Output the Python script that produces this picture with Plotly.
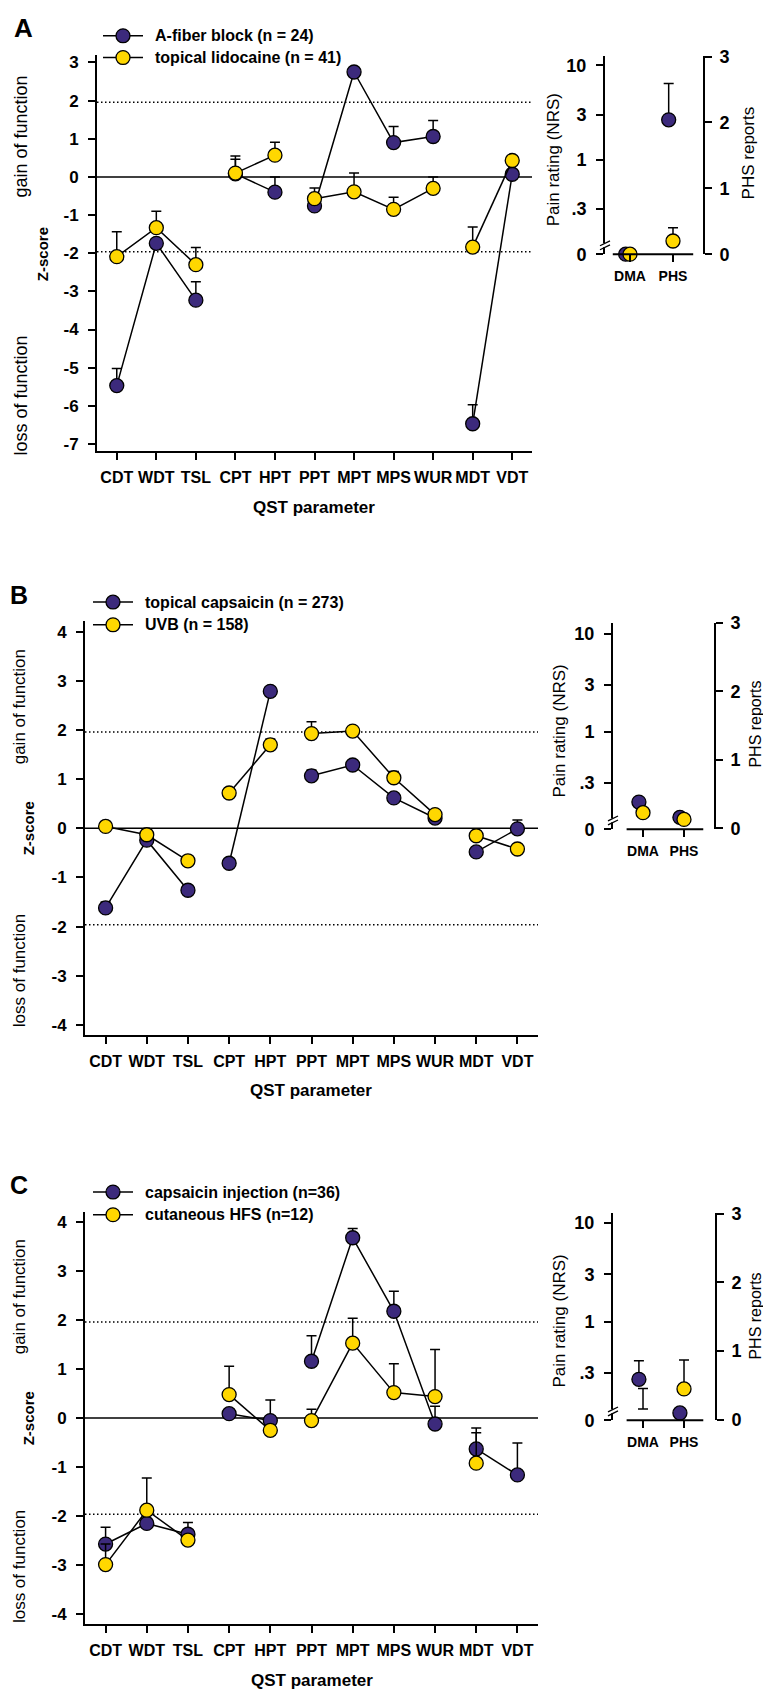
import plotly.graph_objects as go

W, H = 771, 1702
OFF = 8  # the page body adds an 8px margin around the figure
FONT = "Liberation Sans"
PURPLE = "#3c2a7c"
YELLOW = "#ffd700"

# ---------------- data ----------------
params = ["CDT", "WDT", "TSL", "CPT", "HPT", "PPT", "MPT", "MPS", "WUR", "MDT", "VDT"]
segments = [[0, 1, 2], [3, 4], [5, 6, 7, 8], [9, 10]]
right_cats = ["DMA", "PHS"]

a_names = ["A-fiber block (n = 24)", "topical lidocaine (n = 41)"]
a_purple = [-5.47, -1.74, -3.23, 0.08, -0.40, -0.76, 2.75, 0.90, 1.06, -6.47, 0.07]
a_purple_err = [0.45, 0, 0.48, 0.38, 0.40, 0, 0, 0.42, 0.42, 0.50, 0]
a_yellow = [-2.09, -1.33, -2.30, 0.10, 0.57, -0.57, -0.39, -0.85, -0.30, -1.84, 0.43]
a_yellow_err = [0.65, 0.43, 0.45, 0.45, 0.34, 0.28, 0.49, 0.32, 0.30, 0.53, 0]
a_pain_dma = [0.0, 0.0]          # NRS, purple / yellow
a_pain_dma_err = [0.0, 0.0]
a_phs = [2.04, 0.20]             # PHS reports, purple / yellow
a_phs_err = [0.55, 0.20]

b_names = ["topical capsaicin (n = 273)", "UVB (n = 158)"]
b_purple = [-1.62, -0.24, -1.26, -0.71, 2.79, 1.07, 1.29, 0.62, 0.21, -0.48, -0.01]
b_purple_err = [0.12, 0.05, 0.08, 0.05, 0.05, 0.12, 0.08, 0.08, 0.08, 0.05, 0.18]
b_yellow = [0.04, -0.13, -0.66, 0.72, 1.70, 1.93, 1.98, 1.03, 0.28, -0.15, -0.42]
b_yellow_err = [0.10, 0.05, 0.05, 0.10, 0.12, 0.24, 0.05, 0.13, 0.10, 0.05, 0.05]
b_pain_dma = [0.19, 0.148]
b_pain_dma_err = [0.0, 0.0]
b_phs = [0.16, 0.13]
b_phs_err = [0.0, 0.0]

c_names = ["capsaicin injection (n=36)", "cutaneous HFS (n=12)"]
c_purple = [-2.57, -2.15, -2.37, 0.09, -0.05, 1.16, 3.68, 2.18, -0.12, -0.63, -1.16]
c_purple_err = [0.34, 0.10, 0.24, 0.10, 0.42, 0.52, 0.19, 0.41, 0.36, 0.43, 0.65]
c_yellow = [-2.99, -1.88, -2.49, 0.48, -0.25, -0.05, 1.53, 0.52, 0.44, -0.92, None]
c_yellow_err = [0.42, 0.66, 0.10, 0.58, 0.10, 0.23, 0.51, 0.59, 0.96, 0.62, None]
c_pain_dma = [0.26, 0.13]
c_pain_dma_err = [0.14, 0.08]
c_phs = [0.10, 0.45]
c_phs_err = [0.0, 0.42]

nrs_ticks = [0.1, 0.3, 1, 3, 10]
nrs_text = ["0", ".3", "1", "3", "10"]
phs_ticks = [0, 1, 2, 3]


def X(p):
    return (p - OFF) / W


def Y(p):
    return 1 - (p - OFF) / H


fig = go.Figure()


def seg_xy(vals, errs):
    xs, ys, es = [], [], []
    for k, g in enumerate(segments):
        if k:
            xs.append(None); ys.append(None); es.append(0)
        for i in g:
            xs.append(i)
            ys.append(vals[i])
            es.append(errs[i] if errs[i] is not None else 0)
    return xs, ys, es


def err(arr):
    return dict(type="data", array=arr, symmetric=False, arrayminus=[0] * len(arr),
                color="black", thickness=1.5, width=5)


MK = dict(size=14, line=dict(color="black", width=1.3))


def main_series(vals, errs, color, name, xa, ya):
    xs, ys, es = seg_xy(vals, errs)
    fig.add_trace(go.Scatter(
        x=xs, y=ys, mode="lines+markers", name=name, showlegend=False,
        line=dict(color="black", width=1.5),
        marker=dict(MK, color=color),
        error_y=err(es), xaxis=xa, yaxis=ya, cliponaxis=False))


def nrs_pos(v):
    return v if v > 0.1 else 0.1


def right_series(pain, pain_err, phs, phs_err, xa, ya_pain, ya_phs, hide_yellow_dma=False):
    offsets = [-0.1, 0.0]
    colors = [PURPLE, YELLOW]
    for k in range(2):
        op = 0 if (hide_yellow_dma and k == 1) else 1
        fig.add_trace(go.Scatter(
            x=[0 + offsets[k]], y=[nrs_pos(pain[k])], mode="markers", showlegend=False,
            marker=dict(MK, color=colors[k], opacity=op),
            error_y=err([pain_err[k]]), xaxis=xa, yaxis=ya_pain, cliponaxis=False))
        fig.add_trace(go.Scatter(
            x=[1 + offsets[k]], y=[phs[k]], mode="markers", showlegend=False,
            marker=dict(MK, color=colors[k]),
            error_y=err([phs_err[k]]), xaxis=xa, yaxis=ya_phs, cliponaxis=False))


# ---------------- traces ----------------
main_series(a_purple, a_purple_err, PURPLE, a_names[0], "x", "y")
main_series(a_yellow, a_yellow_err, YELLOW, a_names[1], "x", "y")
right_series(a_pain_dma, a_pain_dma_err, a_phs, a_phs_err, "x2", "y2", "y3")

main_series(b_purple, b_purple_err, PURPLE, b_names[0], "x3", "y4")
main_series(b_yellow, b_yellow_err, YELLOW, b_names[1], "x3", "y4")
right_series(b_pain_dma, b_pain_dma_err, b_phs, b_phs_err, "x4", "y5", "y6")

main_series(c_purple, c_purple_err, PURPLE, c_names[0], "x5", "y7")
main_series(c_yellow, c_yellow_err, YELLOW, c_names[1], "x5", "y7")
right_series(c_pain_dma, c_pain_dma_err, c_phs, c_phs_err, "x6", "y8", "y9", hide_yellow_dma=True)

# ---------------- axes ----------------
ytickfont = dict(family=FONT, size=17, color="black", weight="bold")
rtickfont = dict(family=FONT, size=18, color="black", weight="bold")
xtickfont = dict(family=FONT, size=16, color="black", weight="bold")
common = dict(showline=True, linewidth=2, linecolor="black", ticks="outside", ticklen=7,
              tickwidth=2, tickcolor="black", showgrid=False, zeroline=False, fixedrange=True)

panels = [
    dict(xm=(97, 532), ym=(45, 446), yr=(-7.18, 3.207), zt=list(range(-7, 4)),
         xr=(605, 703), rr=(46, 247), xrr=(-0.581, 1.698), nr=(-1, 1.104), pr=(0, 3.015)),
    dict(xm=(85, 538), ym=(618, 1037), yr=(-4.205, 4.225), zt=list(range(-4, 5)),
         xr=(613, 714), rr=(620, 829), xrr=(-0.732, 1.732), nr=(-1, 1.111), pr=(-0.015, 3.0)),
    dict(xm=(85, 538), ym=(1216, 1633), yr=(-4.2, 4.21), zt=list(range(-4, 5)),
         xr=(613, 715), rr=(1217, 1427), xrr=(-0.732, 1.756), nr=(-1, 1.1), pr=(-0.007, 3.014)),
]

layout = {}
for i, p in enumerate(panels):
    xm_id = 2 * i + 1
    xr_id = 2 * i + 2
    ym_id = 3 * i + 1
    yn_id = 3 * i + 2
    yp_id = 3 * i + 3
    xm_name = "xaxis" if xm_id == 1 else f"xaxis{xm_id}"
    ym_name = "yaxis" if ym_id == 1 else f"yaxis{ym_id}"
    xm_ref = "x" if xm_id == 1 else f"x{xm_id}"
    ym_ref = "y" if ym_id == 1 else f"y{ym_id}"
    layout[xm_name] = dict(common, domain=[X(p["xm"][0]), X(p["xm"][1])], range=[-0.5, 10.5],
                           tickvals=list(range(11)), ticktext=params, tickfont=xtickfont,
                           ticklabelstandoff=4, anchor=ym_ref)
    layout[ym_name] = dict(common, domain=[Y(p["ym"][1]), Y(p["ym"][0])], range=list(p["yr"]),
                           tickvals=p["zt"], ticktext=[str(v) for v in p["zt"]],
                           tickfont=ytickfont, ticklabelstandoff=6, anchor=xm_ref)
    layout[f"xaxis{xr_id}"] = dict(common, showline=False, domain=[X(p["xr"][0]), X(p["xr"][1])],
                                   range=list(p["xrr"]), tickvals=[0, 1], ticktext=right_cats,
                                   tickfont=dict(family=FONT, size=14, color="black", weight="bold"),
                                   ticklabelstandoff=2, anchor=f"y{yn_id}")
    layout[f"yaxis{yn_id}"] = dict(common, type="log", domain=[Y(p["rr"][1]), Y(p["rr"][0])],
                                   range=list(p["nr"]), tickvals=nrs_ticks, ticktext=nrs_text,
                                   tickfont=rtickfont, ticklabelstandoff=6, anchor=f"x{xr_id}")
    layout[f"yaxis{yp_id}"] = dict(common, domain=[Y(p["rr"][1]), Y(p["rr"][0])],
                                   range=list(p["pr"]), tickvals=phs_ticks,
                                   ticktext=[str(v) for v in phs_ticks], tickfont=rtickfont,
                                   ticklabelstandoff=4,
                                   overlaying=f"y{yn_id}", side="right", anchor=f"x{xr_id}")

shapes = []
annotations = []


def ann(text, x, y, size, bold=True, angle=0, xanchor="center", color="black"):
    t = f"<b>{text}</b>" if bold else text
    annotations.append(dict(text=t, x=X(x), y=Y(y), xref="paper", yref="paper", showarrow=False,
                            textangle=angle, xanchor=xanchor, yanchor="middle",
                            font=dict(family=FONT, size=size, color=color)))


for i, p in enumerate(panels):
    xm_id = 2 * i + 1
    xr_id = 2 * i + 2
    ym_id = 3 * i + 1
    yn_id = 3 * i + 2
    xm_ref = "x" if xm_id == 1 else f"x{xm_id}"
    ym_ref = "y" if ym_id == 1 else f"y{ym_id}"
    shapes.append(dict(type="line", xref=f"{xm_ref} domain", yref=ym_ref, x0=0, x1=1, y0=0, y1=0,
                       line=dict(color="black", width=1.5), layer="below"))
    for lv in (1.96, -1.96):
        shapes.append(dict(type="line", xref=f"{xm_ref} domain", yref=ym_ref, x0=0, x1=1, y0=lv, y1=lv,
                           line=dict(color="black", width=1.5, dash="1.5px,2.5px"), layer="below"))
    shapes.append(dict(type="line", xref=f"x{xr_id}", yref=f"y{yn_id} domain", x0=-0.4, x1=1.47,
                       y0=0, y1=0, line=dict(color="black", width=2)))
    xb = p["xr"][0]
    yb = p["rr"][1] - 9
    shapes.append(dict(type="rect", xref="paper", yref="paper", x0=X(xb - 2), x1=X(xb + 2),
                       y0=Y(yb + 2), y1=Y(yb - 2), fillcolor="white", line=dict(width=0)))
    for d in (-2, 2):
        shapes.append(dict(type="line", xref="paper", yref="paper", x0=X(xb - 5), x1=X(xb + 5),
                           y0=Y(yb + d + 2.5), y1=Y(yb + d - 2.5), line=dict(color="black", width=1.3)))


def legend_item(name, color, x_line, y):
    shapes.append(dict(type="line", xref="paper", yref="paper", x0=X(x_line), x1=X(x_line + 40),
                       y0=Y(y), y1=Y(y), line=dict(color="black", width=1.5)))
    cx = x_line + 20
    shapes.append(dict(type="circle", xref="paper", yref="paper", x0=X(cx - 7), x1=X(cx + 7),
                       y0=Y(y + 7), y1=Y(y - 7), fillcolor=color,
                       line=dict(color="black", width=1.3)))
    ann(name, x_line + 50, y, 16, xanchor="left")


legend_item(a_names[0], PURPLE, 103, 26)
legend_item(a_names[1], YELLOW, 103, 48)
legend_item(b_names[0], PURPLE, 93, 599)
legend_item(b_names[1], YELLOW, 93, 622)
legend_item(c_names[0], PURPLE, 93, 1196)
legend_item(c_names[1], YELLOW, 93, 1219)

# panel A text
ann("A", 23, 18, 26)
ann("gain of function", 21, 128, 18, bold=False, angle=-90)
ann("Z-score", 42, 247, 15, angle=-90)
ann("loss of function", 21, 390, 18, bold=False, angle=-90)
ann("QST parameter", 314, 503, 17)
ann("Pain rating (NRS)", 553, 152, 17, bold=False, angle=-90)
ann("PHS reports", 748, 145, 17, bold=False, angle=-90)

# panel B text
ann("B", 8, 592, 25, xanchor="left")
ann("gain of function", 8, 705, 17, bold=False, angle=-90, xanchor="left")
ann("Z-score", 28, 828, 15, angle=-90)
ann("loss of function", 8, 972, 17, bold=False, angle=-90, xanchor="left")
ann("QST parameter", 311, 1093, 17)
ann("Pain rating (NRS)", 560, 730, 17, bold=False, angle=-90)
ann("PHS reports", 756, 723, 16, bold=False, angle=-90)

# panel C text
ann("C", 8, 1189, 25, xanchor="left")
ann("gain of function", 8, 1302, 17, bold=False, angle=-90, xanchor="left")
ann("Z-score", 28, 1425, 15, angle=-90)
ann("loss of function", 8, 1575, 17, bold=False, angle=-90, xanchor="left")
ann("QST parameter", 312, 1690, 17)
ann("Pain rating (NRS)", 560, 1327, 17, bold=False, angle=-90)
ann("PHS reports", 756, 1322, 16, bold=False, angle=-90)

layout.update(
    width=W, height=H, margin=dict(l=0, r=0, t=0, b=0),
    paper_bgcolor="white", plot_bgcolor="white",
    font=dict(family=FONT, color="black"),
    shapes=shapes, annotations=annotations, showlegend=False,
)
fig.update_layout(**layout)
fig.write_html("out.html")
